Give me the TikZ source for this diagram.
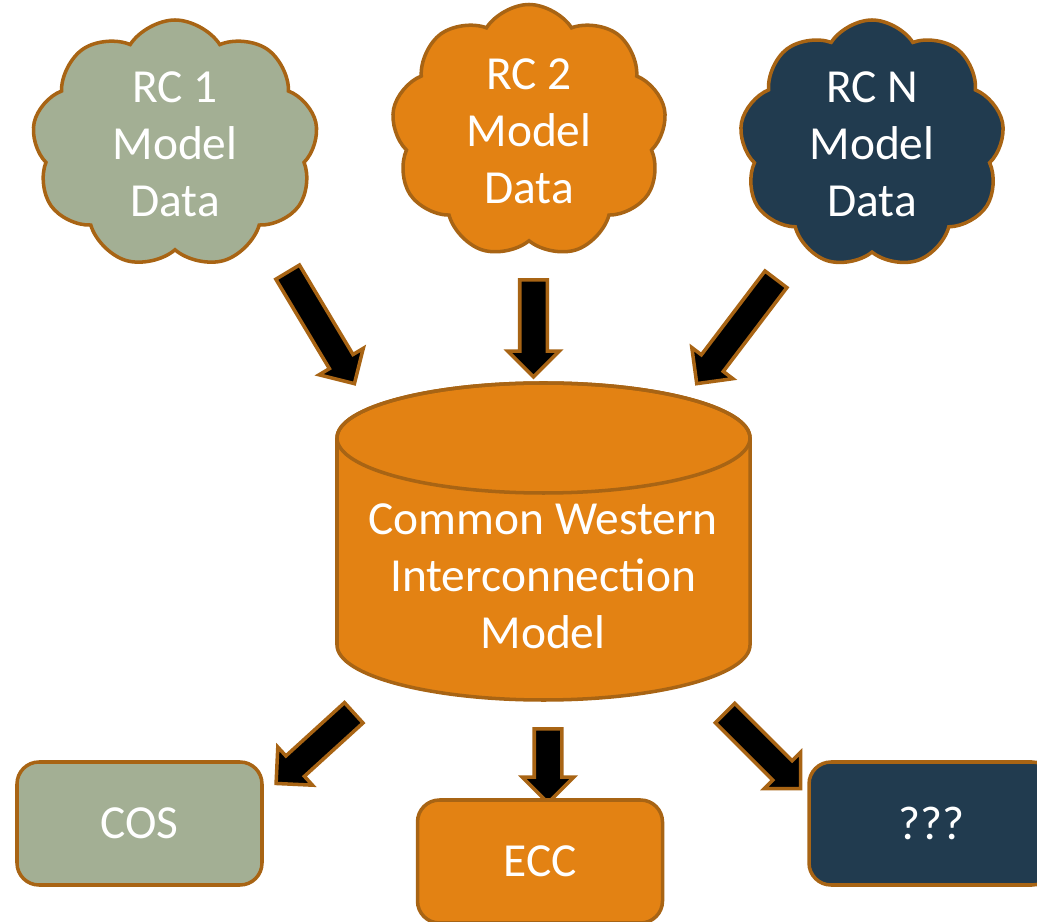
\documentclass[tikz,border=0pt]{standalone}
\usepackage{fontspec}
\setmainfont{Carlito}
\usetikzlibrary{shapes.symbols,shapes.arrows,positioning}
\definecolor{sage}{HTML}{A3AF94}
\definecolor{rcorange}{HTML}{E38213}
\definecolor{rcnavy}{HTML}{213B4F}
\definecolor{edgebrown}{HTML}{A86414}
\tikzset{
 rccloud/.style={cloud, cloud puffs=9, cloud puff arc=115, aspect=1.1, draw=edgebrown, line width=1pt,
  text=white, align=center, inner sep=0pt, font=\fontsize{13.5}{16.2}\selectfont},
 outbox/.style={rectangle, rounded corners=0.22cm, draw=edgebrown, line width=1pt,
  minimum width=2.45cm, minimum height=1.23cm, text=white, font=\fontsize{13.5}{16.2}\selectfont},
 fatarrow/.style={single arrow, fill=black, draw=edgebrown, line width=1pt, inner xsep=0pt, inner ysep=0.12cm,
  single arrow head extend=0.12cm}
}
\begin{document}
\begin{tikzpicture}
 \useasboundingbox (0,0) rectangle (10.37,-9.22);
 \node[rccloud, fill=sage, minimum width=2.86cm, minimum height=2.48cm] (rc1) at (1.75,-1.44) {RC 1\\Model\\Data};
 \node[rccloud, fill=rcorange, minimum width=2.75cm, minimum height=2.53cm] (rc2) at (5.29,-1.31) {RC 2\\Model\\Data};
 \node[rccloud, fill=rcnavy, minimum width=2.65cm, minimum height=2.48cm] (rcn) at (8.72,-1.44) {RC N\\Model\\Data};

 \path[fill=rcorange, draw=edgebrown, line width=1pt] (3.37,-4.38) -- (3.37,-6.45)
  arc[start angle=180, end angle=360, x radius=2.065cm, y radius=0.55cm] -- (7.50,-4.38)
  arc[start angle=0, end angle=180, x radius=2.065cm, y radius=0.55cm] -- cycle;
 \draw[edgebrown, line width=1pt] (5.435,-4.38) ellipse [x radius=2.065cm, y radius=0.55cm];
 \node[text=white, align=center, font=\fontsize{13.5}{16.2}\selectfont] (cwim) at (5.43,-5.76)
  {Common Western\\Interconnection\\Model};

 \node[fatarrow, minimum height=1.30cm, rotate=-59.1] (arr1) at (3.175,-3.22) {};
 \node[fatarrow, minimum height=0.97cm, rotate=-90] (arr2) at (5.335,-3.215) {};
 \node[fatarrow, minimum height=1.31cm, rotate=-127.2] (arr3) at (7.405,-3.26) {};

 \node[fatarrow, minimum height=1.05cm, rotate=-137.7] (arr4) at (3.20,-7.435) {};
 \node[fatarrow, minimum height=0.74cm, rotate=-90] (arr5) at (5.48,-7.59) {};
 \node[fatarrow, minimum height=1.07cm, rotate=-45] (arr6) at (7.58,-7.46) {};

 \node[outbox, fill=sage] (cos) at (1.395,-8.235) {COS};
 \node[outbox, fill=rcorange] (ecc) at (5.40,-8.615) {ECC};
 \node[outbox, fill=rcnavy] (unknown) at (9.315,-8.235) {???};
\end{tikzpicture}
\end{document}
